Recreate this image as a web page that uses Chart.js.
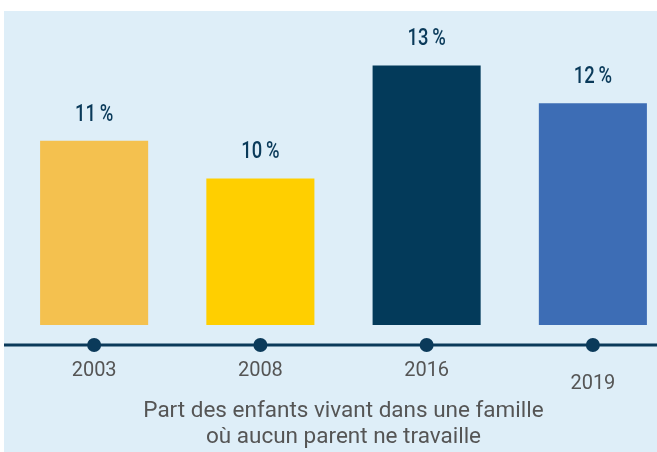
<!DOCTYPE html>
<html>
<head>
<meta charset="utf-8">
<script src="https://cdn.jsdelivr.net/npm/chart.js@4.4.1/dist/chart.umd.min.js"></script>
<style>
  html, body { margin: 0; padding: 0; background: #ffffff; overflow: hidden; width: 657px; height: 452px; }
  #panel { position: absolute; left: 4px; top: 11px; width: 653px; height: 441px; background: #DEEEF8; overflow: hidden; }
  #wrap { position: absolute; left: 0; top: 0; width: 672px; height: 441px; }
</style>
</head>
<body>
<div id="panel"><div id="wrap"><canvas id="c"></canvas></div></div>
<script>
const years = ['2003', '2008', '2016', '2019'];
const tickLabels = ['2003', '2008', '2016', ['', '2019']];
const shares = [11, 10, 13, 12];
const barColors = ['#F4C14F', '#FFCF00', '#033A5A', '#3D6DB5'];
const axisTitle = ['Part des enfants vivant dans une famille', 'où aucun parent ne travaille'];

const txtFont = "Roboto, 'DejaVu Sans', sans-serif";

const timeline = {
  id: 'timeline',
  afterDatasetsDraw(chart) {
    const {ctx, chartArea, scales} = chart;
    const y = chartArea.bottom + 20;
    ctx.save();
    ctx.strokeStyle = '#0B3A5A';
    ctx.lineWidth = 3;
    ctx.beginPath();
    ctx.moveTo(0, y);
    ctx.lineTo(chart.width, y);
    ctx.stroke();
    ctx.fillStyle = '#0B3A5A';
    years.forEach((_, i) => {
      const x = scales.x.getPixelForValue(i);
      ctx.beginPath();
      ctx.arc(x, y, 7, 0, Math.PI * 2);
      ctx.fill();
    });
    ctx.restore();
  }
};

const valueLabels = {
  id: 'valueLabels',
  afterDatasetsDraw(chart) {
    const {ctx} = chart;
    const meta = chart.getDatasetMeta(0);
    meta.data.forEach((bar, i) => {
      ctx.save();
      ctx.fillStyle = '#0A3A5A';
      ctx.font = "500 23px Roboto, 'DejaVu Sans', sans-serif";
      ctx.textAlign = 'center';
      ctx.textBaseline = 'middle';
      ctx.translate(bar.x, bar.y - 26);
      ctx.scale(0.8, 1);
      ctx.fillText(shares[i] + '\u2009%', 0, 0);
      ctx.restore();
    });
  }
};

new Chart(document.getElementById('c'), {
  type: 'bar',
  data: {
    labels: tickLabels,
    datasets: [{
      data: shares,
      backgroundColor: barColors,
      borderWidth: 0,
      barPercentage: 0.65,
      categoryPercentage: 1.0
    }]
  },
  options: {
    responsive: true,
    maintainAspectRatio: false,
    animation: false,
    layout: { padding: { left: 7, right: 0, top: 17, bottom: 0 } },
    plugins: { legend: { display: false }, tooltip: { enabled: false } },
    scales: {
      x: {
        grid: { display: false, drawTicks: false },
        border: { display: false },
        ticks: {
          color: '#555555',
          padding: 39,
          font: { family: txtFont, size: 20, lineHeight: '13px' },
          maxRotation: 0
        },
        title: {
          display: true,
          text: axisTitle,
          color: '#555555',
          font: { family: txtFont, size: 22.5, lineHeight: '26px' },
          padding: { top: 0, bottom: 2 }
        },
        afterFit(scale) { scale.height = 127; }
      },
      y: {
        display: false,
        min: 6.1,
        max: 14
      }
    }
  },
  plugins: [timeline, valueLabels]
});
</script>
</body>
</html>
